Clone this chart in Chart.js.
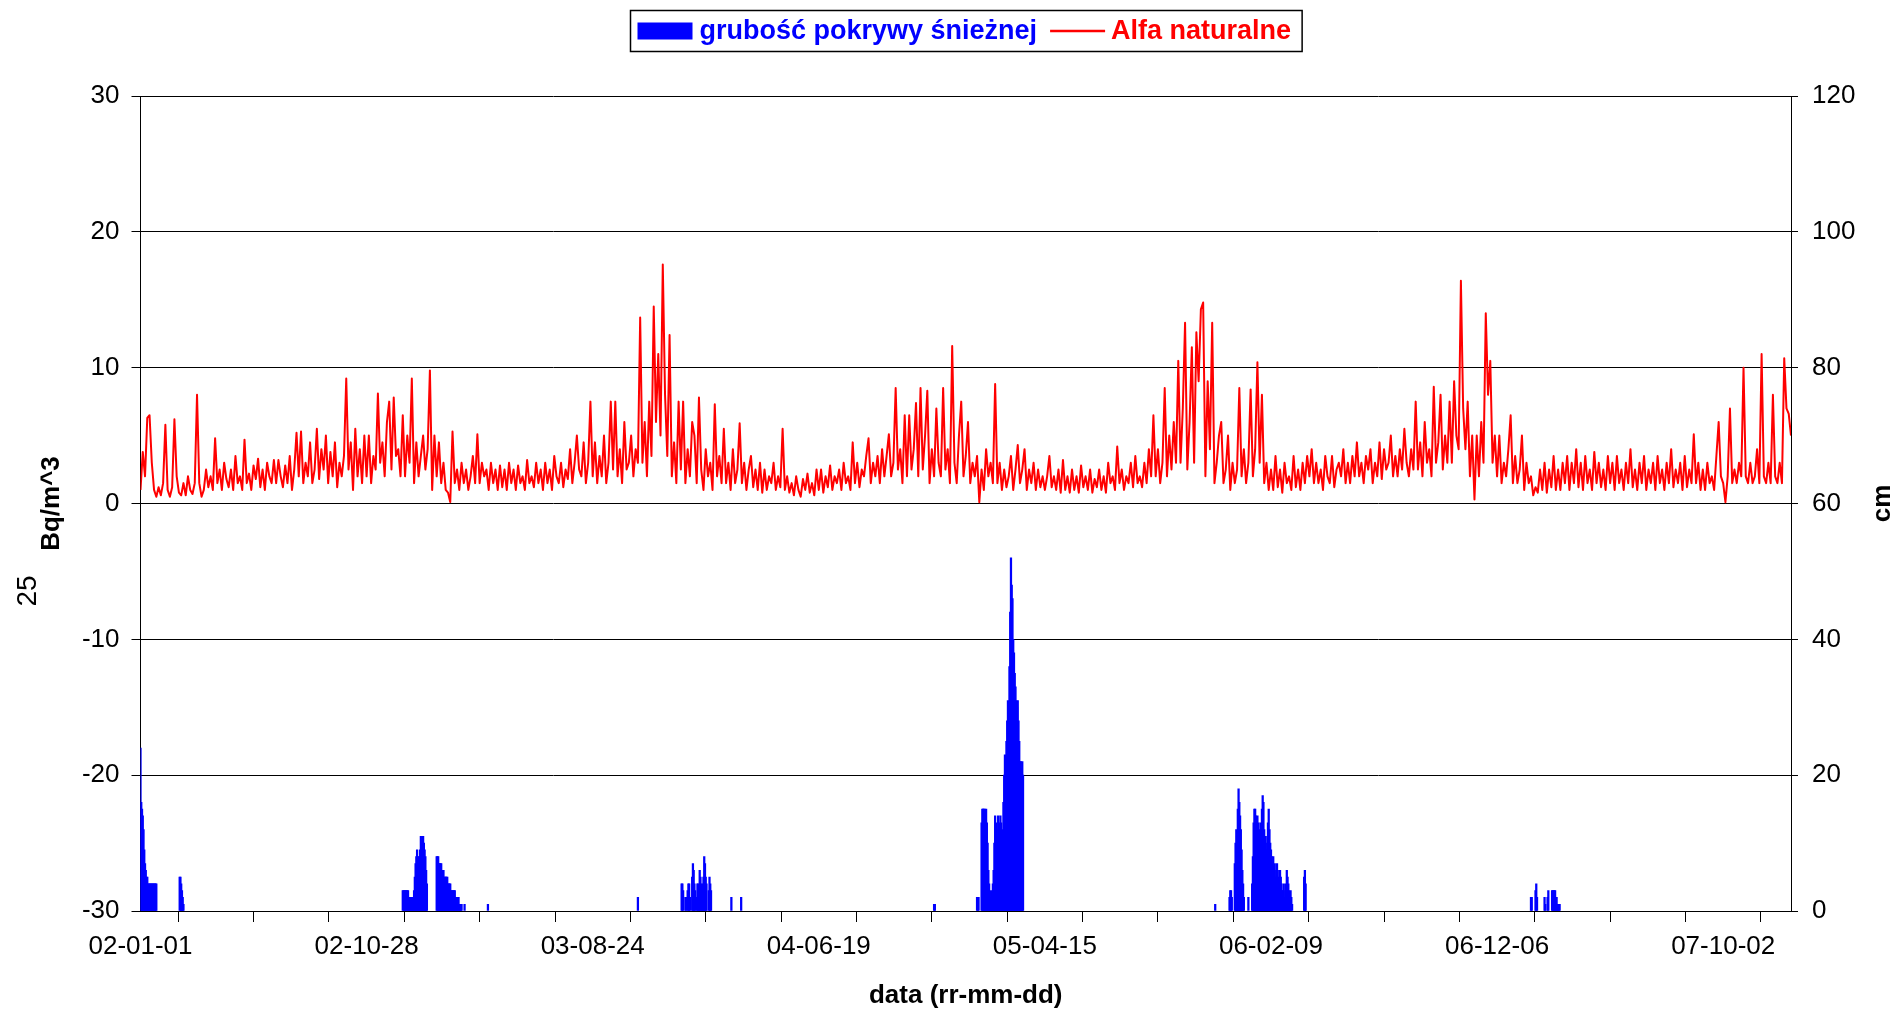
<!DOCTYPE html>
<html><head><meta charset="utf-8">
<script src="https://cdn.jsdelivr.net/npm/chart.js@4.4.1/dist/chart.umd.min.js"></script>
<style>html,body{margin:0;padding:0;background:#fff;} #wrap{width:1899px;height:1013px;position:relative;}</style>
</head><body><div id="wrap"><canvas id="c"></canvas></div>
<script>
// ---- data ----
const startDateUTC = Date.UTC(2002, 0, 1);
const dayCount = 2191;               // 2002-01-01 .. 2007-12-31
const tickEveryDays = 100;
const labelEveryDays = 300;

const alphaLabel = 'Alfa naturalne';
const snowLabel = 'grubość pokrywy śnieżnej';
const leftTitle = 'Bq/m^3';
const rightTitle = 'cm';
const xTitle = 'data (rr-mm-dd)';
const pageNumber = '25';

// Alfa naturalne (Bq/m^3), one reading every 3 days (each row = 30 days)
const alphaStepDays = 3;
const alphaValues = [
 1.0,3.8,2.0,6.3,6.5,3.0,1.0,0.5,1.2,0.6,
 1.5,5.8,1.0,0.5,1.2,6.2,2.0,0.8,0.6,1.5,
 0.6,2.0,1.0,0.7,1.5,8.0,1.5,0.5,1.0,2.5,
 1.2,2.0,1.0,4.8,1.5,2.5,1.0,3.0,1.8,1.2,
 2.5,1.0,3.5,1.5,2.0,1.0,4.7,1.5,2.2,1.0,
 2.8,1.8,3.3,1.2,2.5,1.0,3.0,2.0,1.5,3.2,
 1.5,3.2,2.0,1.2,2.8,1.5,3.5,1.0,2.5,5.2,
 2.0,5.3,1.5,3.0,2.0,4.5,1.5,2.5,5.5,1.8,
 4.0,2.5,5.0,1.5,3.8,2.0,4.5,1.2,3.0,2.0,
 3.5,9.2,2.5,4.5,1.0,5.5,2.0,4.0,1.5,5.0,
 2.0,5.0,1.5,3.5,2.5,8.1,3.0,4.5,2.0,6.0,
 7.5,2.5,7.8,3.5,4.0,2.0,6.5,2.0,5.0,3.0,
 9.2,1.5,4.5,2.0,3.5,5.0,2.5,4.0,9.8,1.0,
 5.0,2.0,4.5,1.5,3.0,1.0,0.8,0.1,5.3,1.5,
 2.5,1.0,3.0,1.5,2.5,1.0,2.0,3.5,1.5,5.1,
 1.5,3.0,2.0,2.5,1.0,3.0,1.5,2.5,1.0,2.8,
 1.2,2.5,1.0,3.0,1.5,2.5,1.0,2.8,1.5,2.0,
 1.0,3.2,1.5,2.0,1.2,3.0,1.5,2.5,1.0,3.0,
 1.5,2.5,1.0,3.5,2.0,1.5,3.0,1.2,2.5,1.8,
 4.0,1.5,3.0,5.0,2.5,2.0,4.5,1.5,3.0,7.5,
 2.0,4.5,1.5,3.5,2.0,5.0,1.5,3.0,7.5,2.5,
 7.5,2.0,4.0,1.5,6.0,2.5,3.0,5.0,2.0,4.0,
 3.0,13.7,3.0,6.0,2.0,7.5,3.5,14.5,6.0,11.0,
 5.0,17.6,8.0,3.5,12.4,2.0,4.5,1.5,7.5,2.5,
 7.5,1.5,4.0,2.0,6.0,5.0,1.5,7.8,2.5,1.0,
 4.0,2.0,3.0,1.0,7.3,2.0,3.5,1.5,5.5,1.5,
 3.0,1.0,4.0,1.5,2.5,5.9,1.5,3.0,1.0,2.5,
 3.5,1.2,2.5,1.0,3.0,0.8,2.5,1.0,2.0,1.5,
 3.0,1.0,2.0,1.2,5.5,1.0,2.0,0.8,1.5,0.6,
 2.0,1.0,0.5,1.8,1.0,2.2,0.8,1.5,0.6,2.5,
 1.0,2.5,0.8,2.0,1.2,2.8,1.0,2.0,1.5,2.5,
 1.0,3.0,1.5,2.0,1.0,4.5,1.5,3.0,1.2,2.5,
 2.0,3.5,4.8,1.5,3.0,2.0,3.5,1.5,4.0,2.0,
 3.5,5.1,2.0,3.0,8.5,2.5,4.0,1.5,6.5,2.0,
 6.5,2.5,4.0,7.4,2.0,8.5,2.5,5.0,8.3,1.5,
 4.0,2.0,7.0,3.0,2.0,8.5,2.5,4.0,1.5,11.6,
 3.0,1.5,5.0,7.5,2.0,3.5,6.0,1.5,3.0,2.0,
 3.5,0.1,2.5,1.0,4.0,2.0,3.0,1.5,8.8,1.5,
 3.0,1.0,2.5,1.2,2.0,3.5,1.0,2.5,4.3,1.5,
 2.5,4.0,1.0,2.5,1.5,3.0,1.0,2.5,1.2,2.0,
 1.0,2.0,3.5,1.2,2.0,1.0,2.5,0.8,3.2,1.0,
 2.0,0.8,2.5,1.0,2.0,0.8,2.8,1.2,2.0,1.0,
 2.5,0.8,1.8,1.2,2.5,1.0,2.0,0.8,3.0,1.5,
 2.0,1.0,4.2,1.5,2.5,1.0,2.0,1.5,3.0,1.2,
 3.5,1.5,2.0,1.2,3.0,1.5,4.0,2.0,6.5,2.0,
 4.0,1.5,3.0,8.5,2.0,5.0,2.5,6.0,3.0,10.5,
 3.0,7.0,13.3,2.5,6.0,11.5,3.0,12.6,9.0,14.3,
 14.8,2.0,9.0,4.0,13.3,1.5,3.0,5.0,6.0,1.5,
 2.5,5.0,1.0,3.0,1.5,2.5,8.5,2.0,4.0,1.5,
 3.0,8.4,2.0,4.0,10.4,3.0,8.0,1.5,3.0,1.0,
 2.5,1.0,3.5,1.2,2.5,0.8,3.0,1.5,2.0,1.0,
 3.5,1.2,2.5,1.0,3.0,1.5,3.5,2.0,4.0,1.5,
 3.0,1.5,2.5,1.0,3.5,2.0,1.5,3.5,1.2,2.5,
 3.0,2.0,4.0,1.5,3.0,1.5,3.5,2.0,4.5,2.0,
 3.0,1.5,3.5,2.5,4.0,1.5,3.0,2.0,4.5,1.8,
 4.0,2.5,3.0,5.0,2.0,3.5,2.0,4.0,2.5,5.5,
 3.0,2.0,4.0,2.5,7.5,2.5,4.5,2.0,6.0,3.0,
 4.0,2.0,8.6,3.0,4.5,8.0,2.5,5.0,3.0,7.5,
 3.0,9.0,5.0,4.0,16.4,7.0,4.0,7.5,2.0,5.0,
 0.3,5.0,2.0,6.0,3.0,14.0,8.0,10.5,3.0,5.0,
 2.0,5.0,1.5,3.0,2.0,4.0,6.5,1.5,3.5,1.5,
 2.5,5.0,1.0,3.0,1.5,2.0,0.6,1.2,0.8,2.5,
 1.0,3.0,0.8,2.5,1.2,3.5,1.0,2.5,1.0,3.0,
 1.5,3.5,1.0,3.0,1.5,4.0,1.2,3.0,1.0,3.5,
 1.5,2.5,1.0,3.8,1.5,3.0,1.2,2.5,1.0,3.5,
 1.5,3.0,1.0,3.5,1.5,2.5,1.0,3.0,1.5,4.0,
 1.2,2.5,1.0,3.0,1.5,3.5,1.0,2.5,1.5,3.0,
 1.0,3.5,1.5,2.5,1.0,3.0,1.5,4.0,1.2,2.5,
 1.5,3.0,1.0,3.5,1.2,2.5,1.5,5.1,1.5,3.0,
 1.0,2.5,1.0,3.0,1.5,2.0,1.0,3.5,6.0,2.0,
 1.5,0.1,2.0,7.0,1.5,2.5,1.5,3.0,2.0,10.0,
 2.0,1.5,3.0,1.5,2.0,4.0,1.5,11.0,2.0,1.5,
 3.0,1.5,8.0,2.0,1.5,3.0,1.5,10.7,7.0,6.6,
 5.0
];

// grubość pokrywy śnieżnej (cm): daily runs, first day index of each run
const snowRunStart = [0, 52, 348, 393, 430, 461, 660, 718, 784, 797, 1053, 1110, 1426, 1445, 1544, 1845, 1863, 1873];
const snowRunCm = [
 [24,16,15,14,12,9,7,6,5,5,4,4,4,4,4,4,4,4,4,4,4,4],
 [5,5,4,3,2,1],
 [3,3,3,3,3,3,3,3,2,2,2,2,2,2,2,3,5,7,8,9,8,7,8,9,11,10,9,11,10,9,8,6,4],
 [8,8,8,7,7,7,7,6,6,6,5,5,5,5,5,4,4,4,4,3,3,3,3,3,3,2,2,2,2,2,1,1,1,1],
 [1],
 [1],
 [2],
 [4,4,3,0,0,2,2,0,3,4,4,2,0,0,5,7,6,4,3,0,2,4,4,3,6,5,4,3,4,5,8,7,5,4,0,0,3,5,4,3],
 [2],
 [2],
 [1,1],
 [2,2,2,0,0,0,13,15,15,15,15,14,15,13,10,6,4,3,2,2,3,4,6,10,14,13,12,11,14,13,12,14,13,11,12,16,20,23,22,25,28,31,29,36,44,52,48,46,40,38,35,33,31,30,31,28,25,22,22,21,22,20],
 [1],
 [2,3,3,2,0,0,0,7,10,12,11,15,18,16,14,12,9,6,4,2,0,0,0,0,0,2,0,0,0,0,4,8,13,15,15,14,12,14,13,12,11,13,12,15,17,16,12,10,11,9,10,13,15,12,10,9,8,7,8,6,7,5,6,7,6,5,4,6,5,4,3,3,4,2,3,4,6,5,4,3,2,3,2,1],
 [5,6,4],
 [2,2,0,0,0,0,3,4,2],
 [2,1,0,0,2,3],
 [3,3,3,3,3,2,2,1,1,1,1]
];

const yLeftTicks = {min: -30, max: 30, step: 10};
const yRightTicks = {min: 0, max: 120, step: 20};

// ---- build library data ----
const alphaPoints = alphaValues.map((v, i) => ({x: i * alphaStepDays, y: v}));
const snowPoints = [];
snowRunStart.forEach((s, r) => snowRunCm[r].forEach((v, k) => { if (v > 0) snowPoints.push({x: s + k, y: v}); }));

function fmtDay(d) {
  const dt = new Date(startDateUTC + d * 86400000);
  const p = n => String(n).padStart(2, '0');
  return p(dt.getUTCFullYear() % 100) + '-' + p(dt.getUTCMonth() + 1) + '-' + p(dt.getUTCDate());
}

const FONT = '"Liberation Sans", Arial, Helvetica, sans-serif';

const extras = {
  id: 'extras',
  afterDraw(chart) {
    const ctx = chart.ctx, ca = chart.chartArea;
    ctx.save();
    // legend
    ctx.font = 'bold 27px ' + FONT;
    const w1 = ctx.measureText(snowLabel).width, w2 = ctx.measureText(alphaLabel).width;
    const sw = 55, g1 = 7, g2 = 13, g3 = 6, padL = 7, padR = 11;
    const total = padL + sw + g1 + w1 + g2 + sw + g3 + w2 + padR;
    const x0 = Math.round((ca.left + ca.right) / 2 - total / 2) + 0.5, y0 = 10.5, h = 41, cy = y0 + h / 2;
    ctx.lineWidth = 1.5; ctx.strokeStyle = '#000';
    ctx.strokeRect(x0, y0, total, h);
    let x = x0 + padL;
    ctx.fillStyle = '#0000FF';
    ctx.fillRect(x, cy - 8.5, sw, 17);
    x += sw + g1;
    ctx.textBaseline = 'middle'; ctx.textAlign = 'left';
    ctx.fillText(snowLabel, x, cy + 1);
    x += w1 + g2;
    ctx.strokeStyle = '#FF0000'; ctx.lineWidth = 2.5;
    ctx.beginPath(); ctx.moveTo(x, cy); ctx.lineTo(x + sw, cy); ctx.stroke();
    x += sw + g3;
    ctx.fillStyle = '#FF0000';
    ctx.fillText(alphaLabel, x, cy + 1);
    // right axis title (rotated like the left one)
    ctx.font = 'bold 26px ' + FONT;
    ctx.fillStyle = '#000';
    ctx.textAlign = 'center';
    ctx.translate(1883, (ca.top + ca.bottom) / 2);
    ctx.rotate(-Math.PI / 2);
    ctx.fillText(rightTitle, 0, 0);
    ctx.restore();
    // page number at margin
    ctx.save();
    ctx.font = '28px ' + FONT;
    ctx.fillStyle = '#000'; ctx.textAlign = 'center'; ctx.textBaseline = 'middle';
    ctx.translate(28.5, 591);
    ctx.rotate(-Math.PI / 2);
    ctx.fillText(pageNumber, 0, 0);
    ctx.restore();
  }
};

new Chart(document.getElementById('c'), {
  type: 'bar',
  data: {
    datasets: [
      {type: 'line', label: alphaLabel, data: alphaPoints, yAxisID: 'y', borderColor: '#FF0000', borderWidth: 2,
       pointRadius: 0, tension: 0, borderJoinStyle: 'round', order: 1},
      {type: 'bar', label: snowLabel, data: snowPoints, yAxisID: 'y1', backgroundColor: '#0000FF', borderWidth: 0,
       barThickness: 1.6, grouped: false, order: 2}
    ]
  },
  options: {
    responsive: true, maintainAspectRatio: false, animation: false, devicePixelRatio: 1,
    layout: {padding: {top: 96, left: 0, right: 0, bottom: 0}},
    plugins: {legend: {display: false}, tooltip: {enabled: false}, title: {display: false}},
    scales: {
      x: {
        type: 'linear', position: 'bottom', min: 0, max: dayCount - 1, offset: false,
        afterBuildTicks: s => { const t = []; for (let d = 0; d < dayCount; d += tickEveryDays) t.push({value: d}); s.ticks = t; },
        afterFit: s => { s.height = 102; },
        grid: {drawOnChartArea: false, drawTicks: true, tickLength: 11, color: '#000', lineWidth: 1},
        border: {display: true, color: '#000', width: 1},
        ticks: {autoSkip: false, maxRotation: 0, minRotation: 0, padding: 9, color: '#000',
                font: {family: FONT, size: 26},
                callback: v => (v % labelEveryDays === 0 ? fmtDay(v) : '')},
        title: {display: true, text: xTitle, color: '#000', font: {family: FONT, size: 26, weight: 'bold'},
                padding: {top: 0, bottom: 2}}
      },
      y: {
        position: 'left', min: yLeftTicks.min, max: yLeftTicks.max,
        afterFit: s => { s.width = 140.5; },
        grid: {color: '#000', lineWidth: 1, tickLength: 9, drawTicks: true},
        border: {display: true, color: '#000', width: 1},
        ticks: {stepSize: yLeftTicks.step, padding: 12, color: '#000', font: {family: FONT, size: 26}},
        title: {display: true, text: leftTitle, color: '#000', font: {family: FONT, size: 26, weight: 'bold'},
                padding: {top: 36, bottom: 0}}
      },
      y1: {
        position: 'right', min: yRightTicks.min, max: yRightTicks.max,
        afterFit: s => { s.width = 108; },
        grid: {drawOnChartArea: false, color: '#000', tickLength: 7, drawTicks: true},
        border: {display: true, color: '#000', width: 1},
        ticks: {stepSize: yRightTicks.step, padding: 14, color: '#000', font: {family: FONT, size: 26}}
      }
    }
  },
  plugins: [extras]
});
</script></body></html>
